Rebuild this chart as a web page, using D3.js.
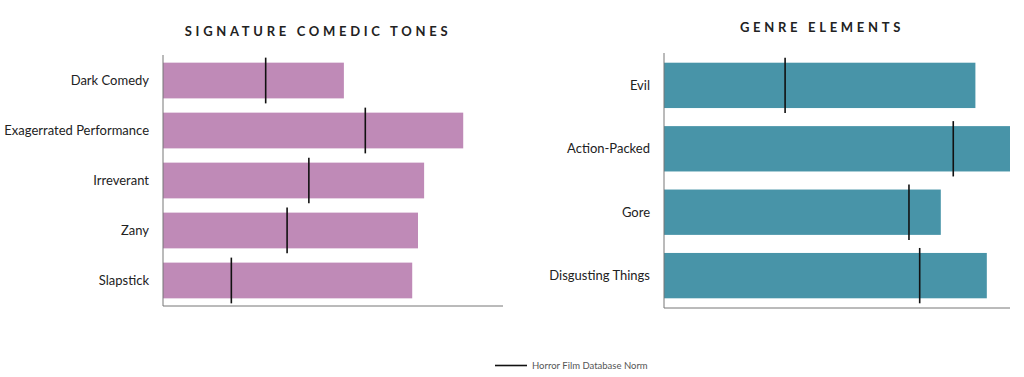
<!DOCTYPE html>
<html>
<head>
<meta charset="utf-8">
<script src="https://cdn.jsdelivr.net/npm/d3@7"></script>
<style>
  body { margin: 0; background: #fff; }
  svg { display: block; }
  .label { font-family: Lato, sans-serif; font-size: 13px; fill: #222; }
  .title { font-family: Lato, sans-serif; font-size: 13px; font-weight: bold; letter-spacing: 3.7px; fill: #222; }
  .legend { font-family: Lato, sans-serif; font-size: 9.5px; fill: #555; }
</style>
</head>
<body>
<div id="chart"></div>
<script>
// Signature comedic tones (share, %)
let toneCategories = ['Dark Comedy', 'Exagerrated Performance', 'Irreverant', 'Zany', 'Slapstick'];
let toneValues = [53.2, 88.3, 76.8, 75.0, 73.3];
let toneNorms = [30.2, 59.5, 42.9, 36.5, 20.1];

// Genre elements (share, %)
let genreCategories = ['Evil', 'Action-Packed', 'Gore', 'Disgusting Things'];
let genreValues = [90.0, 100.0, 80.0, 93.3];
let genreNorms = [35.0, 83.6, 70.8, 73.9];

let legendLabel = 'Horror Film Database Norm';

let svg = d3.select('#chart').append('svg')
    .attr('width', 1024)
    .attr('height', 377);

function drawPanel(opts) {
    let g = svg.append('g');

    let x = d3.scaleLinear()
        .domain([0, 100])
        .range([opts.left, opts.right]);

    let y = d3.scaleBand()
        .domain(opts.categories)
        .range([opts.top, opts.bottom])
        .paddingInner(0.285)
        .paddingOuter(0.153);

    let rows = opts.categories.map((c, i) => ({cat: c, value: opts.values[i], norm: opts.norms[i]}));

    g.selectAll('.bar')
        .data(rows)
        .enter()
        .append('rect')
        .attr('class', 'bar')
        .attr('x', x(0))
        .attr('y', d => y(d.cat))
        .attr('width', d => x(d.value) - x(0))
        .attr('height', y.bandwidth())
        .attr('fill', opts.color);

    g.selectAll('.norm')
        .data(rows)
        .enter()
        .append('line')
        .attr('class', 'norm')
        .attr('x1', d => x(d.norm))
        .attr('x2', d => x(d.norm))
        .attr('y1', d => y(d.cat) - 5)
        .attr('y2', d => y(d.cat) + y.bandwidth() + 5)
        .attr('stroke', '#111')
        .attr('stroke-width', 1.6);

    // axes
    g.append('line')
        .attr('x1', x(0)).attr('x2', x(0))
        .attr('y1', opts.top).attr('y2', opts.bottom)
        .attr('stroke', '#777').attr('stroke-width', 1);
    g.append('line')
        .attr('x1', x(0)).attr('x2', x(100))
        .attr('y1', opts.bottom).attr('y2', opts.bottom)
        .attr('stroke', '#777').attr('stroke-width', 1);

    g.selectAll('.label')
        .data(rows)
        .enter()
        .append('text')
        .attr('class', 'label')
        .attr('x', x(0) - 14)
        .attr('y', d => y(d.cat) + y.bandwidth() / 2)
        .attr('dy', '0.35em')
        .attr('text-anchor', 'end')
        .text(d => d.cat);

    g.append('text')
        .attr('class', 'title')
        .attr('x', opts.titleX)
        .attr('y', opts.titleY)
        .attr('text-anchor', 'middle')
        .text(opts.title);
}

drawPanel({
    title: 'SIGNATURE COMEDIC TONES', titleX: 318, titleY: 36,
    categories: toneCategories, values: toneValues, norms: toneNorms,
    left: 163, right: 503, top: 55, bottom: 306, color: '#bf8ab7'
});

drawPanel({
    title: 'GENRE ELEMENTS', titleX: 822, titleY: 32,
    categories: genreCategories, values: genreValues, norms: genreNorms,
    left: 664, right: 1010, top: 53, bottom: 308, color: '#4894a8'
});

// legend
let legend = svg.append('g').attr('transform', 'translate(495,365.5)');
legend.append('line')
    .attr('x1', 0).attr('x2', 32)
    .attr('stroke', '#111').attr('stroke-width', 1.6);
legend.append('text')
    .attr('class', 'legend')
    .attr('x', 37)
    .attr('dy', '0.35em')
    .text(legendLabel);
</script>
</body>
</html>
